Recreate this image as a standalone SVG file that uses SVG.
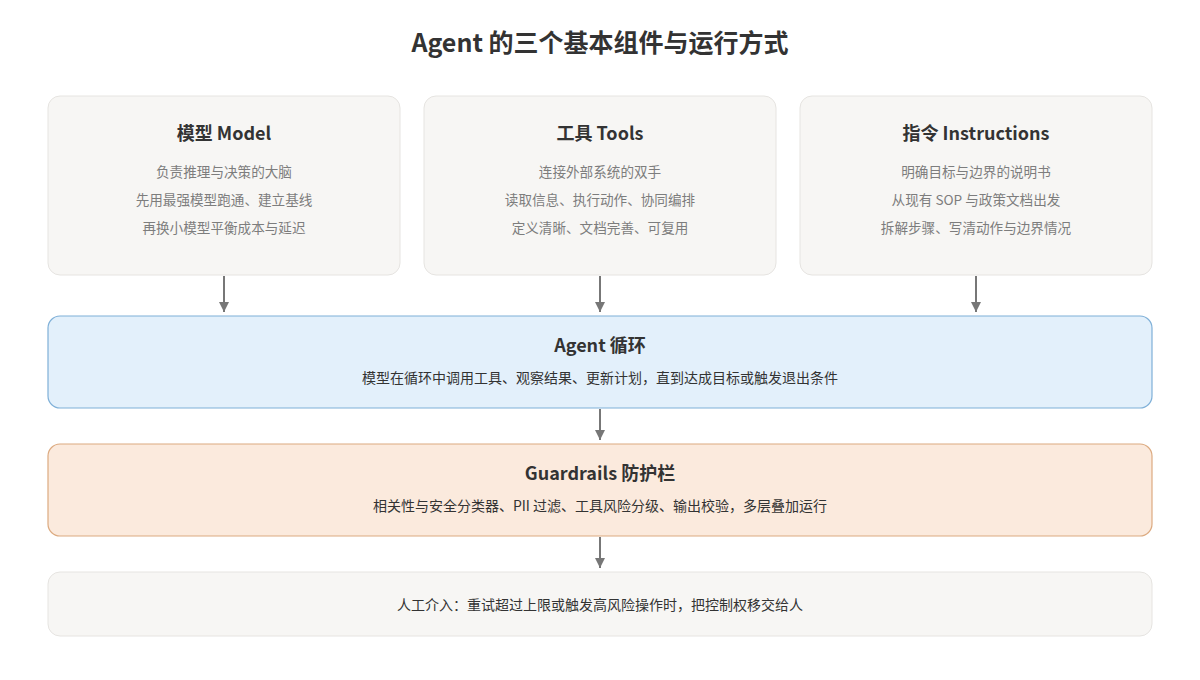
<svg xmlns="http://www.w3.org/2000/svg" width="1200" height="680" viewBox="0 0 1200 680">
<defs>
<marker id="arr" viewBox="0 0 10 10" refX="10" refY="5" markerWidth="10" markerHeight="10" markerUnits="userSpaceOnUse" orient="auto">
<path d="M0,0 L10,5 L0,10 z" fill="#777"/>
</marker>
</defs>
<style>
text{font-family:"Noto Sans CJK SC","Noto Sans",sans-serif;text-anchor:middle}
.title{font-size:25px;font-weight:700;fill:#333}
.h{font-size:18px;font-weight:700;fill:#333}
.sub{font-size:13.6px;fill:#7d7d7d}
.body{font-size:14px;fill:#333}
.card{fill:#f7f6f4;stroke:#e6e4e1;stroke-width:1}
.loop{fill:#e3f0fb;stroke:#7fb0d8;stroke-width:1.2}
.guard{fill:#fbeadd;stroke:#dcaa80;stroke-width:1.2}
.conn{stroke:#777;stroke-width:2;fill:none}
</style>
<rect width="1200" height="680" fill="#ffffff"/>
<text class="title" x="600" y="52">Agent 的三个基本组件与运行方式</text>

<g id="model">
<rect class="card" x="48" y="96" width="352" height="179" rx="12"/>
<text class="h" x="224" y="140">模型 Model</text>
<text class="sub" x="224" y="177">负责推理与决策的大脑</text>
<text class="sub" x="224" y="205">先用最强模型跑通、建立基线</text>
<text class="sub" x="224" y="233">再换小模型平衡成本与延迟</text>
</g>
<g id="tools">
<rect class="card" x="424" y="96" width="352" height="179" rx="12"/>
<text class="h" x="600" y="140">工具 Tools</text>
<text class="sub" x="600" y="177">连接外部系统的双手</text>
<text class="sub" x="600" y="205">读取信息、执行动作、协同编排</text>
<text class="sub" x="600" y="233">定义清晰、文档完善、可复用</text>
</g>
<g id="instructions">
<rect class="card" x="800" y="96" width="352" height="179" rx="12"/>
<text class="h" x="976" y="140">指令 Instructions</text>
<text class="sub" x="976" y="177">明确目标与边界的说明书</text>
<text class="sub" x="976" y="205">从现有 SOP 与政策文档出发</text>
<text class="sub" x="976" y="233">拆解步骤、写清动作与边界情况</text>
</g>
<g id="agent-loop">
<rect class="loop" x="48" y="316" width="1104" height="92" rx="12"/>
<text class="h" x="600" y="352">Agent 循环</text>
<text class="body" x="600" y="383">模型在循环中调用工具、观察结果、更新计划，直到达成目标或触发退出条件</text>
</g>
<g id="guardrails">
<rect class="guard" x="48" y="444" width="1104" height="92" rx="12"/>
<text class="h" x="600" y="480">Guardrails 防护栏</text>
<text class="body" x="600" y="511">相关性与安全分类器、PII 过滤、工具风险分级、输出校验，多层叠加运行</text>
</g>
<g id="human">
<rect class="card" x="48" y="572" width="1104" height="64" rx="12"/>
<text class="body" x="600" y="610">人工介入：重试超过上限或触发高风险操作时，把控制权移交给人</text>
</g>
<g id="connectors">
<line class="conn" x1="224" y1="276" x2="224" y2="312" marker-end="url(#arr)"/>
<line class="conn" x1="600" y1="276" x2="600" y2="312" marker-end="url(#arr)"/>
<line class="conn" x1="976" y1="276" x2="976" y2="312" marker-end="url(#arr)"/>
<line class="conn" x1="600" y1="409" x2="600" y2="440" marker-end="url(#arr)"/>
<line class="conn" x1="600" y1="537" x2="600" y2="568" marker-end="url(#arr)"/>
</g>
</svg>
